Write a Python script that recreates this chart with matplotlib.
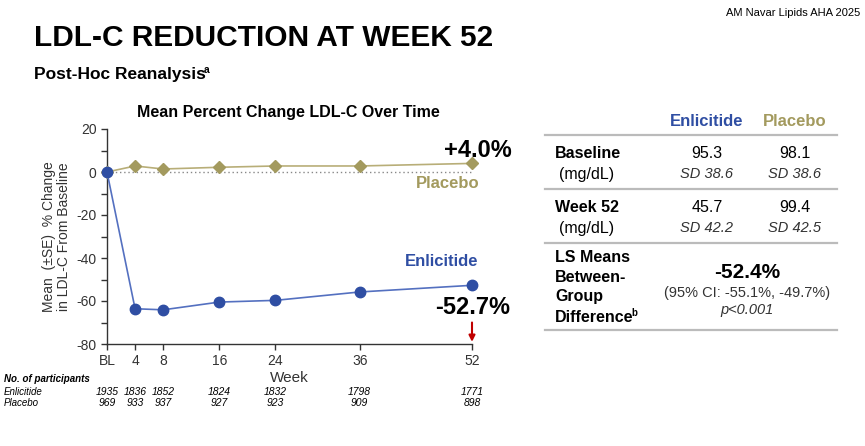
import matplotlib.pyplot as plt
from matplotlib.transforms import blended_transform_factory

plt.rcParams["font.family"] = ["Liberation Sans", "DejaVu Sans"]
plt.rcParams["axes.unicode_minus"] = False

# data
weeks = [0, 4, 8, 16, 24, 36, 52]
week_labels = ["BL", "4", "8", "16", "24", "36", "52"]
enlicitide = [0, -63.6, -64.1, -60.5, -59.7, -55.8, -52.7]
placebo = [0, 2.8, 1.4, 2.2, 2.8, 2.8, 4.0]
n_enlicitide = [1935, 1836, 1852, 1824, 1832, 1798, 1771]
n_placebo = [969, 933, 937, 927, 923, 909, 898]

table_rows = ["Baseline", "Week 52"]
table_mean_enl = ["95.3", "45.7"]
table_mean_pbo = ["98.1", "99.4"]
table_sd_enl = ["SD 38.6", "SD 42.2"]
table_sd_pbo = ["SD 38.6", "SD 42.5"]
ls_diff = "-52.4%"
ls_ci = "(95% CI: -55.1%, -49.7%)"
ls_p = "p<0.001"

blue = "#2F4EA3"
blue_line = "#5470C0"
khaki = "#A39A5E"
khaki_line = "#B8AE78"
grey = "#333333"

W, H = 865, 446
fig = plt.figure(figsize=(W / 100, H / 100), dpi=100)


def fx(px):
    return px / W


def fy(py):
    return 1 - py / H


# chart
ax = fig.add_axes([fx(107), fy(344), fx(472) - fx(107), fy(129) - fy(344)])
ax.plot(weeks, placebo, color=khaki_line, lw=1.2, marker="D", ms=6,
        mfc=khaki, mec=khaki, clip_on=False, zorder=3)
ax.plot(weeks, enlicitide, color=blue_line, lw=1.2, marker="o", ms=7.5,
        mfc=blue, mec=blue, clip_on=False, zorder=4)
ax.axhline(0, color="#888888", lw=1, ls=(0, (1, 2)), zorder=1)

ax.set_xlim(0, 52)
ax.set_ylim(-80, 20)
ax.set_xticks(weeks, week_labels)
ax.set_yticks(range(-80, 21, 20))
ax.set_yticks(range(-70, 20, 20), minor=True)
ax.tick_params(labelsize=10, colors=grey, length=4, width=1)
ax.tick_params(which="minor", length=4, width=1, colors=grey)
for s in ["top", "right"]:
    ax.spines[s].set_visible(False)
for s in ["left", "bottom"]:
    ax.spines[s].set_color(grey)
    ax.spines[s].set_linewidth(1)

ax.set_xlabel("Week", fontsize=11, color=grey, labelpad=2)
ax.set_ylabel("Mean  (\u00b1SE)  % Change\nin LDL-C From Baseline",
              fontsize=10, color=grey, labelpad=4, linespacing=1.1)
fig.text(fx(288), fy(112), "Mean Percent Change LDL-C Over Time",
         ha="center", va="center", fontsize=11.5, fontweight="bold")

ax.annotate("+4.0%", xy=(52, placebo[-1]), xytext=(40, 13),
            textcoords="offset pixels", ha="right", va="center",
            fontsize=17, fontweight="bold", annotation_clip=False)
ax.annotate("Placebo", xy=(52, placebo[-1]), xytext=(8, -20),
            textcoords="offset pixels", ha="right", va="center",
            fontsize=12, fontweight="bold", color=khaki, annotation_clip=False)
ax.annotate("Enlicitide", xy=(52, enlicitide[-1]), xytext=(6, 24),
            textcoords="offset pixels", ha="right", va="center",
            fontsize=12, fontweight="bold", color=blue, annotation_clip=False)
ax.annotate("-52.7%", xy=(52, enlicitide[-1]), xytext=(38, -22),
            textcoords="offset pixels", ha="right", va="center",
            fontsize=17, fontweight="bold", annotation_clip=False)
ax.annotate("", xy=(52, -79), xytext=(52, -70),
            arrowprops=dict(arrowstyle="-|>", color="#C00000", lw=1.5,
                            mutation_scale=9, shrinkA=0, shrinkB=0),
            annotation_clip=False)

# headings
fig.text(fx(860), fy(13), "AM Navar Lipids AHA 2025", ha="right", va="center",
         fontsize=8)
fig.text(fx(34), fy(38), "LDL-C REDUCTION AT WEEK 52", ha="left", va="center",
         fontsize=21.5, fontweight="bold")
sub = fig.text(fx(34), fy(75), "Post-Hoc Reanalysis", ha="left", va="center",
               fontsize=12.5, fontweight="bold")
ax.annotate("a", xy=(0.99, 0.85), xycoords=sub, fontsize=7.5,
            fontweight="bold", va="center", ha="left", annotation_clip=False)

# participants
tr = blended_transform_factory(ax.transData, fig.transFigure)
fig.text(fx(4), fy(379), "No. of participants", fontsize=7,
         fontweight="bold", style="italic", va="center")
fig.text(fx(4), fy(392), "Enlicitide", fontsize=7, style="italic", va="center")
fig.text(fx(4), fy(403), "Placebo", fontsize=7, style="italic", va="center")
for w, ne, npb in zip(weeks, n_enlicitide, n_placebo):
    ax.text(w, fy(392), str(ne), transform=tr, ha="center", va="center",
            fontsize=7.5, style="italic", clip_on=False)
    ax.text(w, fy(403), str(npb), transform=tr, ha="center", va="center",
            fontsize=7.5, style="italic", clip_on=False)

# right-hand table
col_enl, col_pbo = 707, 795
fig.text(fx(col_enl), fy(122), "Enlicitide", ha="center", va="center",
         fontsize=12, fontweight="bold", color=blue)
fig.text(fx(col_pbo), fy(122), "Placebo", ha="center", va="center",
         fontsize=12, fontweight="bold", color=khaki)
for y in [135, 189, 243, 330]:
    fig.add_artist(plt.Line2D([fx(545), fx(837)], [fy(y), fy(y)],
                              color="#BBBBBB", lw=1.6))
for i, name in enumerate(table_rows):
    y0 = 153 + i * 54
    fig.text(fx(555), fy(y0), name, va="center", fontsize=11.5,
             fontweight="bold")
    fig.text(fx(559), fy(y0 + 21), "(mg/dL)", va="center", fontsize=11.5)
    fig.text(fx(col_enl), fy(y0), table_mean_enl[i], ha="center",
             va="center", fontsize=11.5)
    fig.text(fx(col_pbo), fy(y0), table_mean_pbo[i], ha="center",
             va="center", fontsize=11.5)
    fig.text(fx(col_enl), fy(y0 + 21), table_sd_enl[i], ha="center",
             va="center", fontsize=10.5, style="italic", color=grey)
    fig.text(fx(col_pbo), fy(y0 + 21), table_sd_pbo[i], ha="center",
             va="center", fontsize=10.5, style="italic", color=grey)

for j, line in enumerate(["LS Means", "Between-", "Group"]):
    fig.text(fx(555), fy(257 + 20 * j), line, va="center", fontsize=11.5,
             fontweight="bold")
diff = fig.text(fx(555), fy(317), "Difference", va="center", fontsize=11.5,
                fontweight="bold")
ax.annotate("b", xy=(0.97, 0.8), xycoords=diff, fontsize=7,
            fontweight="bold", va="center", ha="left", annotation_clip=False)
fig.text(fx(747), fy(272), ls_diff, ha="center", va="center", fontsize=15,
         fontweight="bold")
fig.text(fx(747), fy(293), ls_ci, ha="center", va="center", fontsize=10.5,
         color=grey)
fig.text(fx(747), fy(310), ls_p, ha="center", va="center", fontsize=10.5,
         style="italic", color=grey)

fig.savefig("out.png", dpi=100)
